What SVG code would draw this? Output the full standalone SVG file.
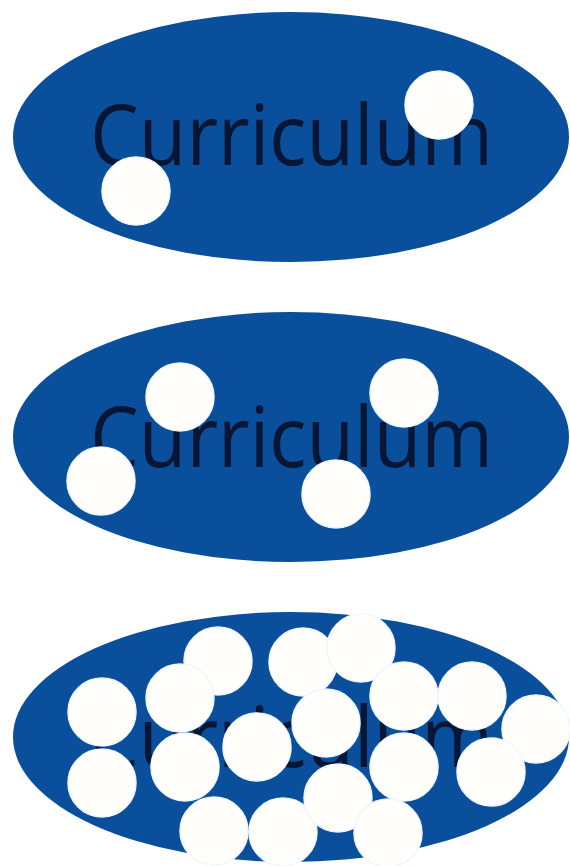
<svg xmlns="http://www.w3.org/2000/svg" width="570" height="866" viewBox="0 0 570 866">
  <style>
    .oval { fill: #0a4f9c; }
    .label { font-family: "Open Sans", "Liberation Sans", sans-serif; font-size: 84px; font-weight: 500; fill: #071634; }
    .dot { fill: #fffefb; stroke: #eef7ff; stroke-width: 1.5; }
  </style>
  <rect width="570" height="866" fill="#ffffff"/>
  <g id="panel-1">
    <ellipse class="oval" cx="291" cy="137" rx="278" ry="125"/>
    <text class="label" x="90" y="165" textLength="403" lengthAdjust="spacingAndGlyphs">Curriculum</text>
    <circle class="dot" cx="439" cy="105" r="34"/>
    <circle class="dot" cx="136" cy="191" r="34"/>
  </g>
  <g id="panel-2">
    <ellipse class="oval" cx="291" cy="437" rx="278" ry="125"/>
    <text class="label" x="90" y="467" textLength="403" lengthAdjust="spacingAndGlyphs">Curriculum</text>
    <circle class="dot" cx="180" cy="397" r="34"/>
    <circle class="dot" cx="404" cy="393" r="34"/>
    <circle class="dot" cx="101" cy="481" r="34"/>
    <circle class="dot" cx="336" cy="494" r="34"/>
  </g>
  <g id="panel-3">
    <ellipse class="oval" cx="291" cy="737" rx="278" ry="125"/>
    <text class="label" x="90" y="767" textLength="403" lengthAdjust="spacingAndGlyphs">Curriculum</text>
    <circle class="dot" cx="102" cy="712" r="34"/>
    <circle class="dot" cx="102" cy="783" r="34"/>
    <circle class="dot" cx="218" cy="661" r="34"/>
    <circle class="dot" cx="180" cy="698" r="34"/>
    <circle class="dot" cx="185" cy="767" r="34"/>
    <circle class="dot" cx="257" cy="747" r="34"/>
    <circle class="dot" cx="214" cy="831" r="34"/>
    <circle class="dot" cx="283" cy="832" r="34"/>
    <circle class="dot" cx="303" cy="662" r="34"/>
    <circle class="dot" cx="361" cy="648" r="34"/>
    <circle class="dot" cx="404" cy="696" r="34"/>
    <circle class="dot" cx="472" cy="696" r="34"/>
    <circle class="dot" cx="536" cy="729" r="34"/>
    <circle class="dot" cx="326" cy="723" r="34"/>
    <circle class="dot" cx="404" cy="767" r="34"/>
    <circle class="dot" cx="491" cy="772" r="34"/>
    <circle class="dot" cx="338" cy="798" r="34"/>
    <circle class="dot" cx="388" cy="833" r="34"/>
  </g>
</svg>
